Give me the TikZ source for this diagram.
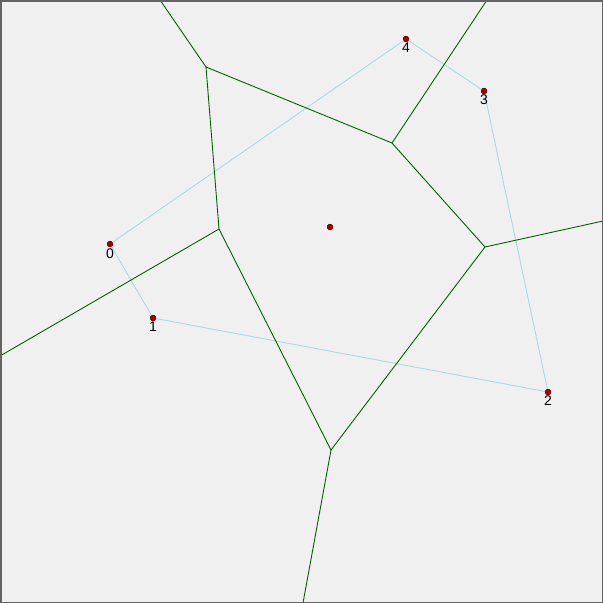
\documentclass[tikz,border=0pt]{standalone}
\usepackage{fontspec}
\setmainfont{Liberation Sans}
\definecolor{bgc}{RGB}{240,240,240}
\definecolor{hullc}{RGB}{173,216,230}
\definecolor{vc}{RGB}{0,100,0}
\definecolor{sitef}{RGB}{170,0,0}
\definecolor{sited}{RGB}{120,0,0}
\definecolor{framec}{RGB}{100,100,100}
\begin{document}
\begin{tikzpicture}[x=1pt,y=-1pt,
  vedge/.style={draw=vc, line width=0.9pt},
  hull/.style={draw=hullc, line width=0.9pt},
  site/.style={circle, fill=sitef, draw=sited, line width=0.6pt, inner sep=0pt, minimum size=5.5pt},
  lbl/.style={font=\fontsize{14}{14}\selectfont, inner sep=0pt}]
\fill[bgc] (0,0) rectangle (603,603);
\useasboundingbox (0,0) rectangle (603,603);
% sites
\node[site] (p0) at (110,244) {};
\node[site] (p1) at (153,318) {};
\node[site] (p2) at (548,392) {};
\node[site] (p3) at (484,91) {};
\node[site] (p4) at (406,39) {};
\node[site] (c) at (330,227) {};
% voronoi vertices
\coordinate (A) at (206,67);
\coordinate (B) at (392,143);
\coordinate (C) at (485,247);
\coordinate (D) at (331,450);
\coordinate (E) at (219,229);
\coordinate (Ao) at (160,0);
\coordinate (Bo) at (487,0);
\coordinate (Co) at (603,221);
\coordinate (Do) at (303,603);
\coordinate (Eo) at (0,356);
% hull
\draw[hull] (p0.center) -- (p1.center) -- (p2.center) -- (p3.center) -- (p4.center) -- cycle;
% voronoi
\draw[vedge] (A) -- (B) -- (C) -- (D) -- (E) -- cycle;
\draw[vedge] (A) -- (Ao);
\draw[vedge] (B) -- (Bo);
\draw[vedge] (C) -- (Co);
\draw[vedge] (D) -- (Do);
\draw[vedge] (E) -- (Eo);
% redraw sites on top
\foreach \n in {p0,p1,p2,p3,p4,c} \node[site] at (\n) {};
% labels
\node[lbl] (l0) at (110,254) {0};
\node[lbl] (l1) at (153,327) {1};
\node[lbl] (l2) at (548,401) {2};
\node[lbl] (l3) at (484,100) {3};
\node[lbl] (l4) at (406,48) {4};
\draw[framec, line width=1.5pt] (0.75,0.75) rectangle (602.25,602.25);
\end{tikzpicture}
\end{document}
